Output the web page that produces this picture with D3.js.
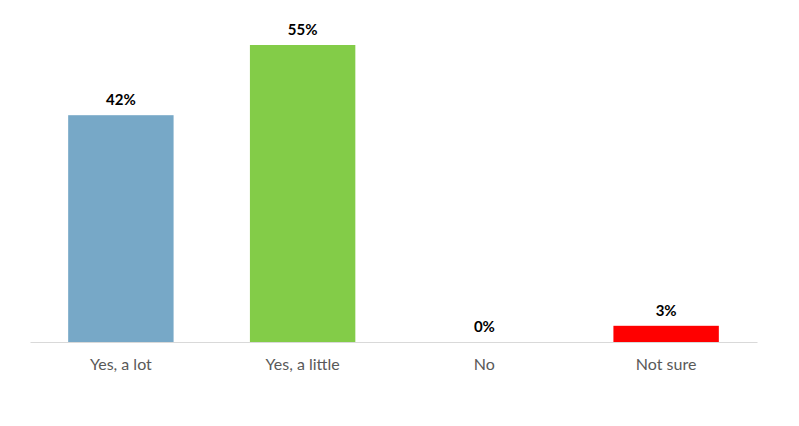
<!DOCTYPE html>
<html><head><meta charset="utf-8">
<script src="https://cdn.jsdelivr.net/npm/d3@7"></script>
<style>body{margin:0;background:#fff}svg{display:block}</style>
</head><body><svg id="c" width="799" height="426"></svg>
<script>
const categories = ["Yes, a lot", "Yes, a little", "No", "Not sure"];
const values = [42, 55, 0, 3];
const colors = ["#77A8C7", "#83CC48", "#FF0000", "#FF0000"];

const svg = d3.select("#c");
const baseY = 342, left = 30, right = 757;
const x = d3.scaleBand().domain(categories).range([left, right]).paddingInner(0.42).paddingOuter(0.21);
const y = d3.scaleLinear().domain([0, 55]).range([baseY, 45]);

svg.selectAll("rect.bar").data(values).join("rect")
  .attr("class", "bar")
  .attr("x", (d, i) => x(categories[i]))
  .attr("width", x.bandwidth())
  .attr("y", d => y(d))
  .attr("height", d => baseY - y(d))
  .attr("fill", (d, i) => colors[i]);

const axis = d3.axisBottom(x).tickSize(0).tickPadding(17);
const g = svg.append("g").attr("transform", `translate(0,${baseY})`).call(axis);
g.select(".domain").attr("stroke", "#d9d9d9").attr("stroke-width", 1);
g.selectAll("text").attr("font-family", "Lato, 'Open Sans', sans-serif").attr("font-size", 16).attr("fill", "#595959");

svg.selectAll("text.val").data(values).join("text")
  .attr("class", "val")
  .attr("x", (d, i) => x(categories[i]) + x.bandwidth() / 2)
  .attr("y", d => y(d) - 10)
  .attr("text-anchor", "middle")
  .attr("font-family", "Lato, 'Open Sans', sans-serif")
  .attr("font-weight", "bold")
  .attr("font-size", 15)
  .attr("fill", "#000")
  .text(d => d + "%");
</script></body></html>
